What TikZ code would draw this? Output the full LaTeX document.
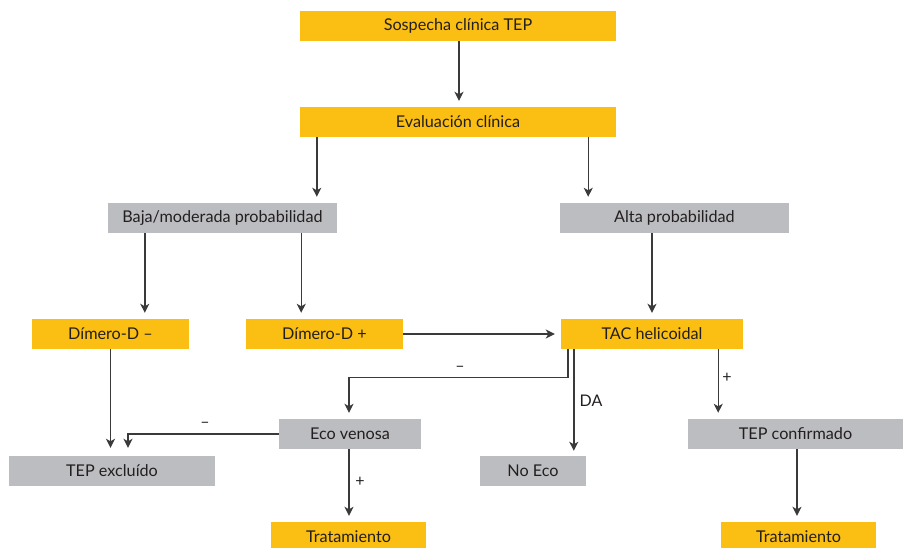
\documentclass[tikz,border=0pt]{standalone}
\usepackage{fontspec}
\setmainfont{Lato}
\usetikzlibrary{arrows.meta,calc}
\definecolor{boxor}{HTML}{FBBE12}
\definecolor{boxgr}{HTML}{BCBDC0}
\definecolor{txt}{HTML}{231F20}
\definecolor{ln}{HTML}{3A3A3A}
\tikzset{
  base/.style={rectangle, inner sep=0pt, minimum height=30pt, text=txt, font=\fontsize{16.2}{18}\selectfont},
  orbox/.style={base, fill=boxor},
  grbox/.style={base, fill=boxgr},
  arr/.style={draw=ln, line width=1.4pt, -{Stealth[length=9pt,width=9pt,inset=2.5pt]}, shorten >=6pt},
  lbl/.style={text=txt, inner sep=0pt, font=\fontsize{16}{18}\selectfont}
}
\begin{document}
\begin{tikzpicture}[x=1pt,y=-1pt]
\useasboundingbox (0,0) rectangle (903,547);
\node[orbox, minimum width=316pt] (sos) at (458,26) {Sospecha clínica TEP};
\node[orbox, minimum width=316pt] (eval) at (458,122) {Evaluación clínica};
\node[grbox, minimum width=229pt] (baja) at (222.5,218) {Baja/moderada probabilidad};
\node[grbox, minimum width=229pt] (alta) at (674.5,218) {Alta probabilidad};
\node[orbox, minimum width=157pt] (dimneg) at (110.5,334) {Dímero-D –};
\node[orbox, minimum width=157pt] (dimpos) at (324.5,334) {Dímero-D +};
\node[orbox, minimum width=182pt] (tac) at (652,334) {TAC helicoidal};
\node[grbox, minimum width=142pt] (eco) at (350,434) {Eco venosa};
\node[grbox, minimum width=215pt] (tepconf) at (795.5,434) {TEP confirmado};
\node[grbox, minimum width=206pt] (tepexc) at (112,471) {TEP excluído};
\node[grbox, minimum width=106pt] (noeco) at (533,471) {No Eco};
\node[orbox, minimum width=155pt] (trat1) at (348.5,537) {Tratamiento};
\node[orbox, minimum width=155pt] (trat2) at (798.5,537) {Tratamiento};

\draw[arr] ([xshift=1]sos.south) -- ([xshift=1]eval.north);
\draw[arr] ([xshift=17]eval.south west) -- ([xshift=17]eval.south west |- baja.north);
\draw[arr] ([xshift=-28]eval.south east) -- ([xshift=-28]eval.south east |- alta.north);
\draw[arr] ([xshift=37]baja.south west) -- ([xshift=37]baja.south west |- dimneg.north);
\draw[arr] ([xshift=-36]baja.south east) -- ([xshift=-36]baja.south east |- dimpos.north);
\draw[arr] (alta.south -| tac.north) -- (tac.north);
\draw[arr] (dimpos.east) -- (tac.west);
\draw[arr] ([xshift=7]tac.south west) -- ++(0,28) -| ([xshift=-1]eco.north);
\draw[arr, shorten >=5pt] ([xshift=13]tac.south west) -- ([xshift=13]tac.south west |- noeco.north);
\draw[arr] ([xshift=-25]tac.south east) -- ([xshift=-25]tac.south east |- tepconf.north);
\draw[arr] ([xshift=1.5]tepconf.south) -- ([xshift=1.5]tepconf.south |- trat2.north);
\draw[arr, shorten >=8pt] (dimneg.south) -- (dimneg.south |- tepexc.north);
\draw[arr, shorten >=8pt] (eco.west) -| ([xshift=16]tepexc.north);
\draw[arr] ([xshift=-1]eco.south) -- ([xshift=-1]eco.south |- trat1.north);

\node[lbl] (l1) at (460,369) {–};
\node[lbl] (l2) at (591,401) {DA};
\node[lbl] (l3) at (727,378) {+};
\node[lbl] (l4) at (205,425) {–};
\node[lbl] (l5) at (360,482) {+};
\end{tikzpicture}
\end{document}
